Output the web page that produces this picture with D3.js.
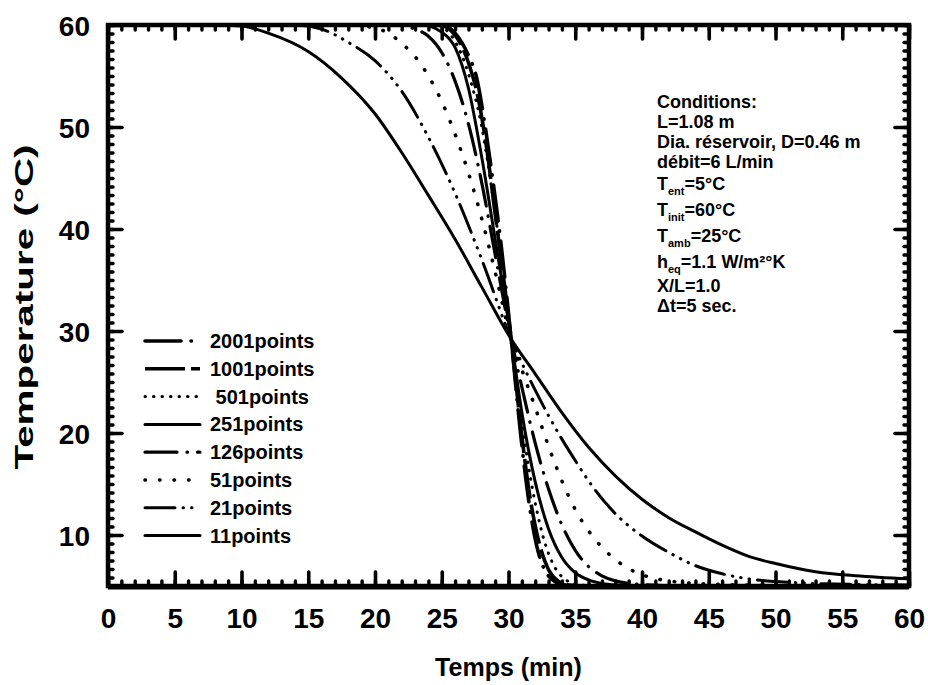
<!DOCTYPE html>
<html>
<head>
<meta charset="utf-8">
<script src="https://cdn.jsdelivr.net/npm/d3@7"></script>
<style>
  html, body { margin: 0; padding: 0; background: #fff; }
  svg { display: block; }
  text { font-family: "Liberation Sans", Arial, Helvetica, sans-serif; font-weight: bold; fill: #000; }
</style>
</head>
<body>
<svg id="chart" width="928" height="685"></svg>
<script>
// Outlet temperature vs. time for different numbers of grid points
const curve2001 = [[0,60],[25,60],[26,59.2],[27,57.0],[27.6,54.9],[28.2,50.5],[28.7,46.0],[29.4,39.0],[30.2,29.2],[30.9,20.0],[31.5,13.5],[32.1,9.0],[32.7,6.6],[33.3,5.6],[34,5.15],[35,5.0],[60,5.0]];
const curve1001 = [[0,60],[24.8,60],[26,59.0],[27,56.3],[27.7,53.0],[28.3,48.5],[29,41.5],[30.2,29.2],[30.9,20.8],[31.6,13.8],[32.3,9.2],[33,6.6],[33.7,5.5],[34.5,5.1],[36,5.0],[60,5.0]];
const curve501 = [[0,60],[24.5,60],[25.8,58.8],[27,55.2],[28,50.0],[28.9,42.5],[30.2,29.2],[31,21.0],[31.8,14.5],[32.6,9.8],[33.4,7.0],[34.2,5.7],[35,5.2],[36,5.05],[60,5.0]];
const curve251 = [[0,60],[23.5,60],[25,59.3],[26,57.8],[27,53.8],[28,47.0],[29,39.0],[30.2,29.2],[31,22.0],[32,15.2],[33,10.6],[34,7.8],[35,6.3],[36,5.6],[37,5.25],[38,5.1],[40,5.0],[60,5.0]];
const curve126 = [[0,60],[21.5,60],[23,59.6],[24,58.9],[25,57.3],[26,54.5],[27,50.3],[28,44.5],[29,37.5],[30.2,29.2],[31,24.5],[32,19.0],[33,14.5],[34,11.0],[35,8.5],[36,6.9],[37,6.0],[38,5.5],[40,5.15],[43,5.0],[60,5.0]];
const curve51 = [[0,60],[18,60],[20,59.7],[21,59.2],[22,58.2],[23,56.9],[24,55.0],[25,52.5],[26,49.3],[27,45.5],[28,41.0],[29,35.8],[30.2,29.2],[31,26.2],[32,22.5],[33,18.7],[34,15.3],[35,12.5],[36,10.4],[37,8.8],[38,7.6],[39,6.7],[40,6.1],[42,5.5],[45,5.2],[50,5.05],[60,5.0]];
const curve21 = [[0,60],[14,60],[16,59.6],[18,58.3],[20,56.5],[22,53.5],[24,49.0],[26,43.5],[28,37.0],[30.2,29.2],[32,24.2],[33,21.7],[34,19.4],[35,17.3],[36,15.3],[38,12.1],[40,9.9],[42,8.3],[44,7.0],[46,6.2],[48,5.7],[52,5.3],[56,5.15],[60,5.1]];
const curve11 = [[0,60],[8,60],[10,59.9],[12,59.2],[15,57.4],[17.5,54.8],[20,51.3],[22,47.5],[24,43.3],[26,39.0],[28,34.3],[30.2,29.2],[32,25.8],[34,22.0],[36,18.6],[38,15.8],[40,13.5],[42,11.7],[44,10.3],[46,9.0],[48,7.9],[50,7.2],[53,6.4],[56,6.0],[60,5.7]];

const seriesNames = ["2001points", "1001points", " 501points", "251points", "126points", "51points", "21points", "11points"];
const seriesData = [curve2001, curve1001, curve501, curve251, curve126, curve51, curve21, curve11];

const xTicks = [0, 5, 10, 15, 20, 25, 30, 35, 40, 45, 50, 55, 60];
const yTicks = [10, 20, 30, 40, 50, 60];

const xTitle = "Temps (min)";
const yTitle = "Temperature (°C)";

// Run conditions; second entry of a part marks a subscript
const conditionLines = [
  [["Conditions:"]],
  [["L=1.08 m"]],
  [["Dia. réservoir, D=0.46 m"]],
  [["débit=6 L/min"]],
  [["T"], ["ent", "sub"], ["=5°C"]],
  [["T"], ["init", "sub"], ["=60°C"]],
  [["T"], ["amb", "sub"], ["=25°C"]],
  [["h"], ["eq", "sub"], ["=1.1 W/m²°K"]],
  [["X/L=1.0"]],
  [["Δt=5 sec."]]
];

// Stroke styles, one per series (same order as seriesData)
const styles = [
  { w: 3.6, dash: "36,10,0.5,10", cap: "round" },   // long dash + dot
  { w: 3.6, dash: "40,6", cap: "butt" },            // long dash
  { w: 3.0, dash: "0.5,8", cap: "round" },          // fine dots
  { w: 3.0, dash: null, cap: "round" },             // solid
  { w: 3.2, dash: "32,10,0.5,10", cap: "round" },   // dash + dot
  { w: 3.6, dash: "0.5,14", cap: "round" },         // spaced dots
  { w: 3.0, dash: "30,8,0.5,8,0.5,8,0.5,8", cap: "round" }, // dash + three dots
  { w: 3.0, dash: null, cap: "round" }              // solid
];

const svg = d3.select("#chart");
const x = d3.scaleLinear().domain([0, 60]).range([108, 909]);
const y = d3.scaleLinear().domain([5, 60]).range([586, 25]);

svg.append("defs").append("clipPath").attr("id", "plot-clip")
  .append("rect")
  .attr("x", x(0)).attr("y", y(60))
  .attr("width", x(60) - x(0)).attr("height", y(5) - y(60));

// Curves
const line = d3.line().x(d => x(d[0])).y(d => y(d[1])).curve(d3.curveMonotoneX);
const curves = svg.append("g").attr("clip-path", "url(#plot-clip)");
seriesData.forEach((data, i) => {
  const s = styles[i];
  curves.append("path")
    .attr("d", line(data))
    .attr("fill", "none")
    .attr("stroke", "#000")
    .attr("stroke-width", s.w)
    .attr("stroke-linecap", s.cap)
    .attr("stroke-linejoin", "round")
    .attr("stroke-dasharray", s.dash);
});

// Ticks (all pointing inward)
const xMinor = d3.range(0, 61, 1);
const yMinor = d3.range(0, 67).map(k => 60 - k * 10 / 12).filter(v => v >= 5);

function styleTicks(g, width) {
  g.select(".domain").remove();
  g.selectAll(".tick line")
    .attr("stroke", "#000")
    .attr("stroke-width", width)
    .attr("stroke-linecap", "round");
}

svg.append("g").attr("transform", `translate(0,${y(5)})`)
  .call(d3.axisBottom(x).tickValues(xMinor).tickSize(-5).tickFormat(""))
  .call(g => styleTicks(g, 3.4));
svg.append("g").attr("transform", `translate(0,${y(60)})`)
  .call(d3.axisTop(x).tickValues(xMinor).tickSize(-5).tickFormat(""))
  .call(g => styleTicks(g, 3.4));
svg.append("g").attr("transform", `translate(${x(0)},0)`)
  .call(d3.axisLeft(y).tickValues(yMinor).tickSize(-5).tickFormat(""))
  .call(g => styleTicks(g, 3.4));
svg.append("g").attr("transform", `translate(${x(60)},0)`)
  .call(d3.axisRight(y).tickValues(yMinor).tickSize(-5).tickFormat(""))
  .call(g => styleTicks(g, 3.4));

const xAxis = svg.append("g").attr("transform", `translate(0,${y(5)})`)
  .call(d3.axisBottom(x).tickValues(xTicks).tickSize(-14).tickPadding(22).tickFormat(d3.format("d")))
  .call(g => styleTicks(g, 3.6));
svg.append("g").attr("transform", `translate(0,${y(60)})`)
  .call(d3.axisTop(x).tickValues(xTicks).tickSize(-14).tickFormat(""))
  .call(g => styleTicks(g, 3.6));
const yAxis = svg.append("g").attr("transform", `translate(${x(0)},0)`)
  .call(d3.axisLeft(y).tickValues(yTicks).tickSize(-14).tickPadding(18).tickFormat(d3.format("d")))
  .call(g => styleTicks(g, 3.6));
svg.append("g").attr("transform", `translate(${x(60)},0)`)
  .call(d3.axisRight(y).tickValues(yTicks).tickSize(-14).tickFormat(""))
  .call(g => styleTicks(g, 3.6));

svg.selectAll(".tick text")
  .attr("font-family", '"Liberation Sans", Arial, sans-serif')
  .attr("font-weight", "bold")
  .attr("font-size", 28)
  .attr("fill", "#000");
yAxis.selectAll(".tick text").attr("dy", "0.36em");

// Frame
svg.append("rect")
  .attr("x", x(0)).attr("y", y(60))
  .attr("width", x(60) - x(0)).attr("height", y(5) - y(60))
  .attr("fill", "none").attr("stroke", "#000").attr("stroke-width", 4.5);
svg.append("line")
  .attr("x1", x(0)).attr("x2", x(60)).attr("y1", y(5) + 1).attr("y2", y(5) + 1)
  .attr("stroke", "#000").attr("stroke-width", 5);

// Axis titles
svg.append("text")
  .attr("x", x(30)).attr("y", 676)
  .attr("text-anchor", "middle")
  .attr("font-size", 25)
  .text(xTitle);

svg.append("text")
  .attr("transform", `translate(33,${307}) rotate(-90)`)
  .attr("text-anchor", "middle")
  .attr("font-size", 25)
  .attr("textLength", 325)
  .attr("lengthAdjust", "spacingAndGlyphs")
  .text(yTitle);

// Legend
const legend = svg.append("g");
seriesNames.forEach((name, i) => {
  const cy = 341 + i * 27.8;
  const s = styles[i];
  legend.append("line")
    .attr("x1", 145).attr("x2", 200)
    .attr("y1", cy).attr("y2", cy)
    .attr("stroke", "#000")
    .attr("stroke-width", s.w)
    .attr("stroke-linecap", s.cap)
    .attr("stroke-dasharray", s.dash);
  legend.append("text")
    .attr("x", 210).attr("y", cy + 7)
    .attr("font-size", 20)
    .style("white-space", "pre")
    .text(name);
});

// Conditions block
const cond = svg.append("g");
let baseY = 108;
conditionLines.forEach((parts, i) => {
  const hasSub = parts.some(p => p[1] === "sub");
  const t = cond.append("text")
    .attr("x", 657)
    .attr("y", baseY + (hasSub ? 2 : 0))
    .attr("font-size", 18);
  parts.forEach(p => {
    if (p[1] === "sub") {
      t.append("tspan").attr("font-size", 11).attr("dy", 5).text(p[0]);
    } else {
      const ts = t.append("tspan").text(p[0]);
      if (t.selectAll("tspan").size() > 1 && parts[parts.indexOf(p) - 1][1] === "sub") ts.attr("dy", -5);
    }
  });
  baseY += 20 + (hasSub ? 6 : 0);
});
</script>
</body>
</html>
